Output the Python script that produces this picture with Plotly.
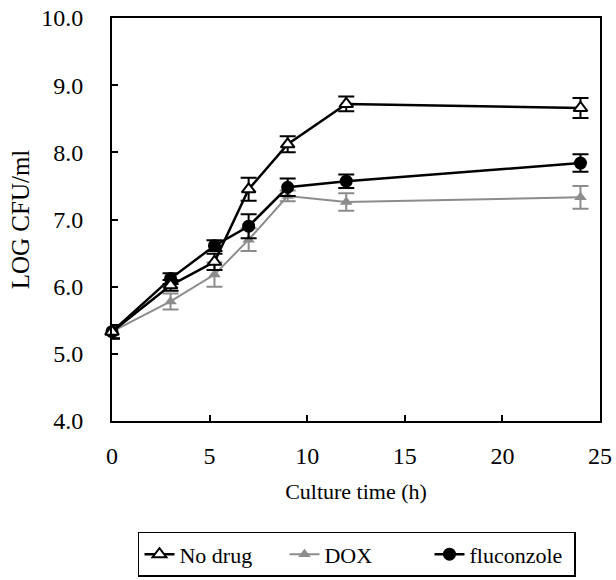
import plotly.graph_objects as go

time_h = [0, 3, 5.25, 7, 9, 12, 24]

no_drug = [5.33, 6.02, 6.37, 7.45, 8.12, 8.72, 8.66]
no_drug_err = [0.1, 0.08, 0.12, 0.17, 0.12, 0.11, 0.15]

dox = [5.33, 5.78, 6.18, 6.70, 7.35, 7.26, 7.33]
dox_err = [0.1, 0.12, 0.18, 0.17, 0.08, 0.13, 0.17]

fluconazole = [5.33, 6.12, 6.61, 6.90, 7.48, 7.57, 7.84]
fluconazole_err = [0.1, 0.08, 0.08, 0.18, 0.13, 0.1, 0.13]

series_names = ["No drug", "DOX", "fluconzole"]

font_family = "Liberation Serif, Times New Roman, serif"

fig = go.Figure()

# DOX drawn first (underneath), legend order fixed by legendrank
fig.add_trace(go.Scatter(
    x=time_h, y=dox, name=series_names[1], mode="lines+markers", legendrank=2,
    line=dict(color="#8c8c8c", width=2),
    marker=dict(symbol="triangle-up", size=11, color="#8c8c8c"),
    error_y=dict(type="data", array=dox_err, color="#8c8c8c", thickness=2, width=8),
))
fig.add_trace(go.Scatter(
    x=time_h, y=fluconazole, name=series_names[2], mode="lines+markers", legendrank=3,
    line=dict(color="black", width=2.5),
    marker=dict(symbol="circle", size=13, color="black"),
    error_y=dict(type="data", array=fluconazole_err, color="black", thickness=2, width=8),
))
fig.add_trace(go.Scatter(
    x=time_h, y=no_drug, name=series_names[0], mode="lines+markers", legendrank=1,
    line=dict(color="black", width=2.5),
    marker=dict(symbol="triangle-up", size=12, color="white",
                line=dict(color="black", width=2)),
    error_y=dict(type="data", array=no_drug_err, color="black", thickness=2, width=8),
))

fig.update_layout(
    width=616, height=580,
    margin=dict(l=112, r=16, t=18, b=159, autoexpand=False),
    paper_bgcolor="white", plot_bgcolor="white",
    font=dict(family=font_family, size=23, color="black"),
    showlegend=True,
    legend=dict(
        orientation="h", x=0.502, xanchor="center", y=-0.275, yanchor="top",
        bordercolor="black", borderwidth=1.5, traceorder="normal",
        font=dict(size=22), itemwidth=30, entrywidth=100, entrywidthmode="pixels",
    ),
    xaxis=dict(
        range=[0, 25], tickvals=[0, 5, 10, 15, 20, 25],
        ticks="inside", ticklen=6, tickwidth=1.5, tickcolor="black",
        showline=True, linecolor="black", linewidth=2, mirror=True,
        showgrid=False, zeroline=False, ticklabelstandoff=12, automargin=False,
        tickfont=dict(size=24),
        title=dict(text="Culture time (h)", font=dict(size=22), standoff=16),
    ),
    yaxis=dict(
        range=[4, 10], tickvals=[4, 5, 6, 7, 8, 9, 10],
        ticktext=["4.0", "5.0", "6.0", "7.0", "8.0", "9.0", "10.0"],
        ticks="inside", ticklen=6, tickwidth=1.5, tickcolor="black",
        showline=True, linecolor="black", linewidth=2, mirror=True,
        showgrid=False, zeroline=False, ticklabelstandoff=22, automargin=False,
        tickfont=dict(size=24),
        title=dict(text="LOG CFU/ml", font=dict(size=25), standoff=4),
    ),
)
fig.update_traces(cliponaxis=False)

fig.write_html("out.html", config={"displayModeBar": False},
               post_script="document.body.style.margin='0';")
